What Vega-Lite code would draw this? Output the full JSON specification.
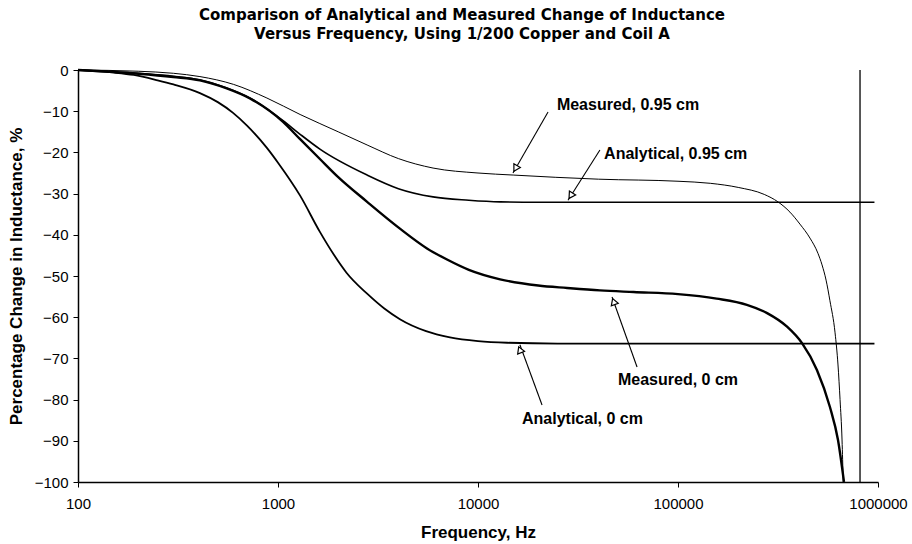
{
  "$schema": "https://vega.github.io/schema/vega-lite/v6.json",
  "width": 800,
  "height": 412,
  "autosize": "none",
  "padding": {"left": 78, "top": 70, "right": 34, "bottom": 62},
  "background": "white",
  "config": {"view": {"stroke": null}, "font": "Liberation Sans"},
  "title": {
    "text": ["Comparison of Analytical and Measured Change of Inductance", "Versus Frequency, Using 1/200 Copper and Coil A"],
    "font": "DejaVu Sans",
    "fontSize": 15,
    "fontWeight": "bold",
    "lineHeight": 19,
    "anchor": "middle",
    "dx": -16,
    "offset": 21,
    "color": "black"
  },
  "datasets": {
    "curves": [
      {"series": "Analytical, 0 cm", "f": 100, "v": 0},
      {"series": "Analytical, 0 cm", "f": 150, "v": -0.6},
      {"series": "Analytical, 0 cm", "f": 190, "v": -1.2},
      {"series": "Analytical, 0 cm", "f": 250, "v": -2.5},
      {"series": "Analytical, 0 cm", "f": 300, "v": -3.5},
      {"series": "Analytical, 0 cm", "f": 407, "v": -5.6},
      {"series": "Analytical, 0 cm", "f": 500, "v": -7.8},
      {"series": "Analytical, 0 cm", "f": 596, "v": -10.4},
      {"series": "Analytical, 0 cm", "f": 700, "v": -13.5},
      {"series": "Analytical, 0 cm", "f": 880, "v": -18.9},
      {"series": "Analytical, 0 cm", "f": 1000, "v": -22.5},
      {"series": "Analytical, 0 cm", "f": 1290, "v": -30.5},
      {"series": "Analytical, 0 cm", "f": 1620, "v": -39.3},
      {"series": "Analytical, 0 cm", "f": 1900, "v": -44.8},
      {"series": "Analytical, 0 cm", "f": 2200, "v": -49.2},
      {"series": "Analytical, 0 cm", "f": 2790, "v": -54.3},
      {"series": "Analytical, 0 cm", "f": 3400, "v": -57.9},
      {"series": "Analytical, 0 cm", "f": 4070, "v": -60.5},
      {"series": "Analytical, 0 cm", "f": 5500, "v": -63.4},
      {"series": "Analytical, 0 cm", "f": 7240, "v": -64.9},
      {"series": "Analytical, 0 cm", "f": 10000, "v": -65.8},
      {"series": "Analytical, 0 cm", "f": 14000, "v": -66.2},
      {"series": "Analytical, 0 cm", "f": 25000, "v": -66.4},
      {"series": "Analytical, 0 cm", "f": 60000, "v": -66.4},
      {"series": "Analytical, 0 cm", "f": 960000, "v": -66.4},

      {"series": "Analytical, 0.95 cm", "f": 100, "v": 0},
      {"series": "Analytical, 0.95 cm", "f": 200, "v": -0.8},
      {"series": "Analytical, 0.95 cm", "f": 300, "v": -1.5},
      {"series": "Analytical, 0.95 cm", "f": 407, "v": -2.4},
      {"series": "Analytical, 0.95 cm", "f": 550, "v": -4.3},
      {"series": "Analytical, 0.95 cm", "f": 724, "v": -6.8},
      {"series": "Analytical, 0.95 cm", "f": 1060, "v": -12.3},
      {"series": "Analytical, 0.95 cm", "f": 1290, "v": -15.6},
      {"series": "Analytical, 0.95 cm", "f": 1620, "v": -19.2},
      {"series": "Analytical, 0.95 cm", "f": 2790, "v": -25.5},
      {"series": "Analytical, 0.95 cm", "f": 4000, "v": -28.8},
      {"series": "Analytical, 0.95 cm", "f": 5960, "v": -30.8},
      {"series": "Analytical, 0.95 cm", "f": 9000, "v": -31.6},
      {"series": "Analytical, 0.95 cm", "f": 12900, "v": -32.0},
      {"series": "Analytical, 0.95 cm", "f": 20000, "v": -32.1},
      {"series": "Analytical, 0.95 cm", "f": 960000, "v": -32.1},

      {"series": "Measured, 0 cm", "f": 100, "v": 0},
      {"series": "Measured, 0 cm", "f": 200, "v": -0.9},
      {"series": "Measured, 0 cm", "f": 300, "v": -1.7},
      {"series": "Measured, 0 cm", "f": 407, "v": -2.5},
      {"series": "Measured, 0 cm", "f": 550, "v": -4.4},
      {"series": "Measured, 0 cm", "f": 724, "v": -6.9},
      {"series": "Measured, 0 cm", "f": 1060, "v": -12.6},
      {"series": "Measured, 0 cm", "f": 1290, "v": -16.8},
      {"series": "Measured, 0 cm", "f": 1620, "v": -21.6},
      {"series": "Measured, 0 cm", "f": 2000, "v": -26},
      {"series": "Measured, 0 cm", "f": 2790, "v": -32},
      {"series": "Measured, 0 cm", "f": 4070, "v": -38.5},
      {"series": "Measured, 0 cm", "f": 5560, "v": -43.3},
      {"series": "Measured, 0 cm", "f": 7000, "v": -46},
      {"series": "Measured, 0 cm", "f": 9000, "v": -48.5},
      {"series": "Measured, 0 cm", "f": 12900, "v": -50.8},
      {"series": "Measured, 0 cm", "f": 20000, "v": -52.3},
      {"series": "Measured, 0 cm", "f": 27900, "v": -52.9},
      {"series": "Measured, 0 cm", "f": 40700, "v": -53.5},
      {"series": "Measured, 0 cm", "f": 60000, "v": -53.9},
      {"series": "Measured, 0 cm", "f": 100000, "v": -54.4},
      {"series": "Measured, 0 cm", "f": 156000, "v": -55.5},
      {"series": "Measured, 0 cm", "f": 221000, "v": -57},
      {"series": "Measured, 0 cm", "f": 279000, "v": -59},
      {"series": "Measured, 0 cm", "f": 351000, "v": -62.3},
      {"series": "Measured, 0 cm", "f": 417000, "v": -66.3},
      {"series": "Measured, 0 cm", "f": 495000, "v": -72.8},
      {"series": "Measured, 0 cm", "f": 575000, "v": -81.8},
      {"series": "Measured, 0 cm", "f": 631000, "v": -89.8},
      {"series": "Measured, 0 cm", "f": 676000, "v": -100},

      {"series": "Measured, 0.95 cm", "f": 100, "v": 0},
      {"series": "Measured, 0.95 cm", "f": 200, "v": -0.3},
      {"series": "Measured, 0.95 cm", "f": 300, "v": -0.8},
      {"series": "Measured, 0.95 cm", "f": 407, "v": -1.6},
      {"series": "Measured, 0.95 cm", "f": 600, "v": -3.5},
      {"series": "Measured, 0.95 cm", "f": 880, "v": -6.8},
      {"series": "Measured, 0.95 cm", "f": 1290, "v": -10.8},
      {"series": "Measured, 0.95 cm", "f": 2000, "v": -15},
      {"series": "Measured, 0.95 cm", "f": 2790, "v": -18.2},
      {"series": "Measured, 0.95 cm", "f": 4000, "v": -21.5},
      {"series": "Measured, 0.95 cm", "f": 5960, "v": -23.8},
      {"series": "Measured, 0.95 cm", "f": 10000, "v": -25},
      {"series": "Measured, 0.95 cm", "f": 15000, "v": -25.5},
      {"series": "Measured, 0.95 cm", "f": 40000, "v": -26.5},
      {"series": "Measured, 0.95 cm", "f": 100000, "v": -27},
      {"series": "Measured, 0.95 cm", "f": 145000, "v": -27.5},
      {"series": "Measured, 0.95 cm", "f": 200000, "v": -28.5},
      {"series": "Measured, 0.95 cm", "f": 270000, "v": -30.2},
      {"series": "Measured, 0.95 cm", "f": 316000, "v": -32},
      {"series": "Measured, 0.95 cm", "f": 363000, "v": -34.5},
      {"series": "Measured, 0.95 cm", "f": 407000, "v": -37.4},
      {"series": "Measured, 0.95 cm", "f": 457000, "v": -40.8},
      {"series": "Measured, 0.95 cm", "f": 501000, "v": -44.5},
      {"series": "Measured, 0.95 cm", "f": 525000, "v": -47.3},
      {"series": "Measured, 0.95 cm", "f": 550000, "v": -51},
      {"series": "Measured, 0.95 cm", "f": 575000, "v": -56},
      {"series": "Measured, 0.95 cm", "f": 610000, "v": -63.8},
      {"series": "Measured, 0.95 cm", "f": 631000, "v": -71.6},
      {"series": "Measured, 0.95 cm", "f": 646000, "v": -80},
      {"series": "Measured, 0.95 cm", "f": 661000, "v": -89.8},
      {"series": "Measured, 0.95 cm", "f": 670000, "v": -100}
    ],
    "labels": [
      {"label": "Measured, 0.95 cm", "f": 24800, "v": -8.5},
      {"label": "Analytical, 0.95 cm", "f": 42700, "v": -20.4},
      {"label": "Measured, 0 cm", "f": 50100, "v": -75.2},
      {"label": "Analytical, 0 cm", "f": 16600, "v": -84.7}
    ],
    "arrows": [
      {"label": "Measured, 0.95 cm", "f": 22400, "v": -10.2, "f2": 14960, "v2": -25.0},
      {"label": "Analytical, 0.95 cm", "f": 40700, "v": -19.4, "f2": 28200, "v2": -31.6},
      {"label": "Measured, 0 cm", "f": 62400, "v": -72.1, "f2": 46800, "v2": -55.1},
      {"label": "Analytical, 0 cm", "f": 20900, "v": -81.3, "f2": 16200, "v2": -66.7}
    ],
    "heads": [
      {"label": "Measured, 0.95 cm", "f": 15400, "v": -23.9},
      {"label": "Analytical, 0.95 cm", "f": 29100, "v": -30.5},
      {"label": "Measured, 0 cm", "f": 47700, "v": -56.2},
      {"label": "Analytical, 0 cm", "f": 16200, "v": -67.9}
    ],
    "vline": [
      {"f": 813000, "v": 0, "v2": -100}
    ]
  },
  "encoding": {
    "x": {
      "field": "f",
      "type": "quantitative",
      "scale": {"type": "log", "domain": [100, 1000000], "nice": false},
      "axis": {
        "title": "Frequency, Hz",
        "values": [100, 1000, 10000, 100000, 1000000],
        "format": "d",
        "grid": false,
        "domainColor": "black",
        "domainWidth": 1.5,
        "tickColor": "black",
        "tickSize": 5,
        "labelFont": "Liberation Sans",
        "labelFontSize": 15,
        "labelColor": "black",
        "labelPadding": 9,
        "labelFlush": false,
        "titleFont": "Liberation Sans",
        "titleFontSize": 17,
        "titleFontWeight": "bold",
        "titleColor": "black",
        "titlePadding": 13
      }
    },
    "y": {
      "field": "v",
      "type": "quantitative",
      "scale": {"domain": [-100, 0], "nice": false},
      "axis": {
        "title": "Percentage Change in Inductance, %",
        "values": [0, -10, -20, -30, -40, -50, -60, -70, -80, -90, -100],
        "grid": false,
        "domainColor": "black",
        "domainWidth": 1.5,
        "tickColor": "black",
        "tickSize": 5,
        "labelFont": "Liberation Sans",
        "labelFontSize": 15,
        "labelColor": "black",
        "labelPadding": 5,
        "titleFont": "Liberation Sans",
        "titleFontSize": 17,
        "titleFontWeight": "bold",
        "titleColor": "black",
        "titlePadding": 9
      }
    }
  },
  "layer": [
    {
      "data": {"name": "vline"},
      "mark": {"type": "rule", "color": "black", "strokeWidth": 1.3},
      "encoding": {"y2": {"field": "v2"}}
    },
    {
      "data": {"name": "curves"},
      "transform": [{"filter": "datum.series === 'Measured, 0.95 cm'"}],
      "mark": {"type": "line", "color": "black", "strokeWidth": 1, "interpolate": "monotone"},
      "encoding": {}
    },
    {
      "data": {"name": "curves"},
      "transform": [{"filter": "datum.series === 'Analytical, 0.95 cm'"}],
      "mark": {"type": "line", "color": "black", "strokeWidth": 1.6, "interpolate": "monotone"},
      "encoding": {}
    },
    {
      "data": {"name": "curves"},
      "transform": [{"filter": "datum.series === 'Analytical, 0 cm'"}],
      "mark": {"type": "line", "color": "black", "strokeWidth": 1.8, "interpolate": "monotone"},
      "encoding": {}
    },
    {
      "data": {"name": "curves"},
      "transform": [{"filter": "datum.series === 'Measured, 0 cm'"}],
      "mark": {"type": "line", "color": "black", "strokeWidth": 2.4, "interpolate": "monotone"},
      "encoding": {}
    },
    {
      "data": {"name": "arrows"},
      "mark": {"type": "rule", "color": "black", "strokeWidth": 1.1},
      "encoding": {"x2": {"field": "f2"}, "y2": {"field": "v2"}}
    },
    {
      "data": {"name": "heads"},
      "transform": [{"filter": "datum.label === 'Measured, 0.95 cm'"}],
      "mark": {"type": "point", "shape": "triangle-up", "angle": 210, "size": 55, "filled": true, "fill": "white", "stroke": "black", "strokeWidth": 1.2, "opacity": 1},
      "encoding": {}
    },
    {
      "data": {"name": "heads"},
      "transform": [{"filter": "datum.label === 'Analytical, 0.95 cm'"}],
      "mark": {"type": "point", "shape": "triangle-up", "angle": 213, "size": 55, "filled": true, "fill": "white", "stroke": "black", "strokeWidth": 1.2, "opacity": 1},
      "encoding": {}
    },
    {
      "data": {"name": "heads"},
      "transform": [{"filter": "datum.label === 'Measured, 0 cm'"}],
      "mark": {"type": "point", "shape": "triangle-up", "angle": 340, "size": 55, "filled": true, "fill": "white", "stroke": "black", "strokeWidth": 1.2, "opacity": 1},
      "encoding": {}
    },
    {
      "data": {"name": "heads"},
      "transform": [{"filter": "datum.label === 'Analytical, 0 cm'"}],
      "mark": {"type": "point", "shape": "triangle-up", "angle": 338, "size": 55, "filled": true, "fill": "white", "stroke": "black", "strokeWidth": 1.2, "opacity": 1},
      "encoding": {}
    },
    {
      "data": {"name": "labels"},
      "mark": {"type": "text", "align": "left", "baseline": "middle", "font": "Liberation Sans", "fontSize": 16, "fontWeight": "bold", "color": "black"},
      "encoding": {"text": {"field": "label"}}
    }
  ]
}
